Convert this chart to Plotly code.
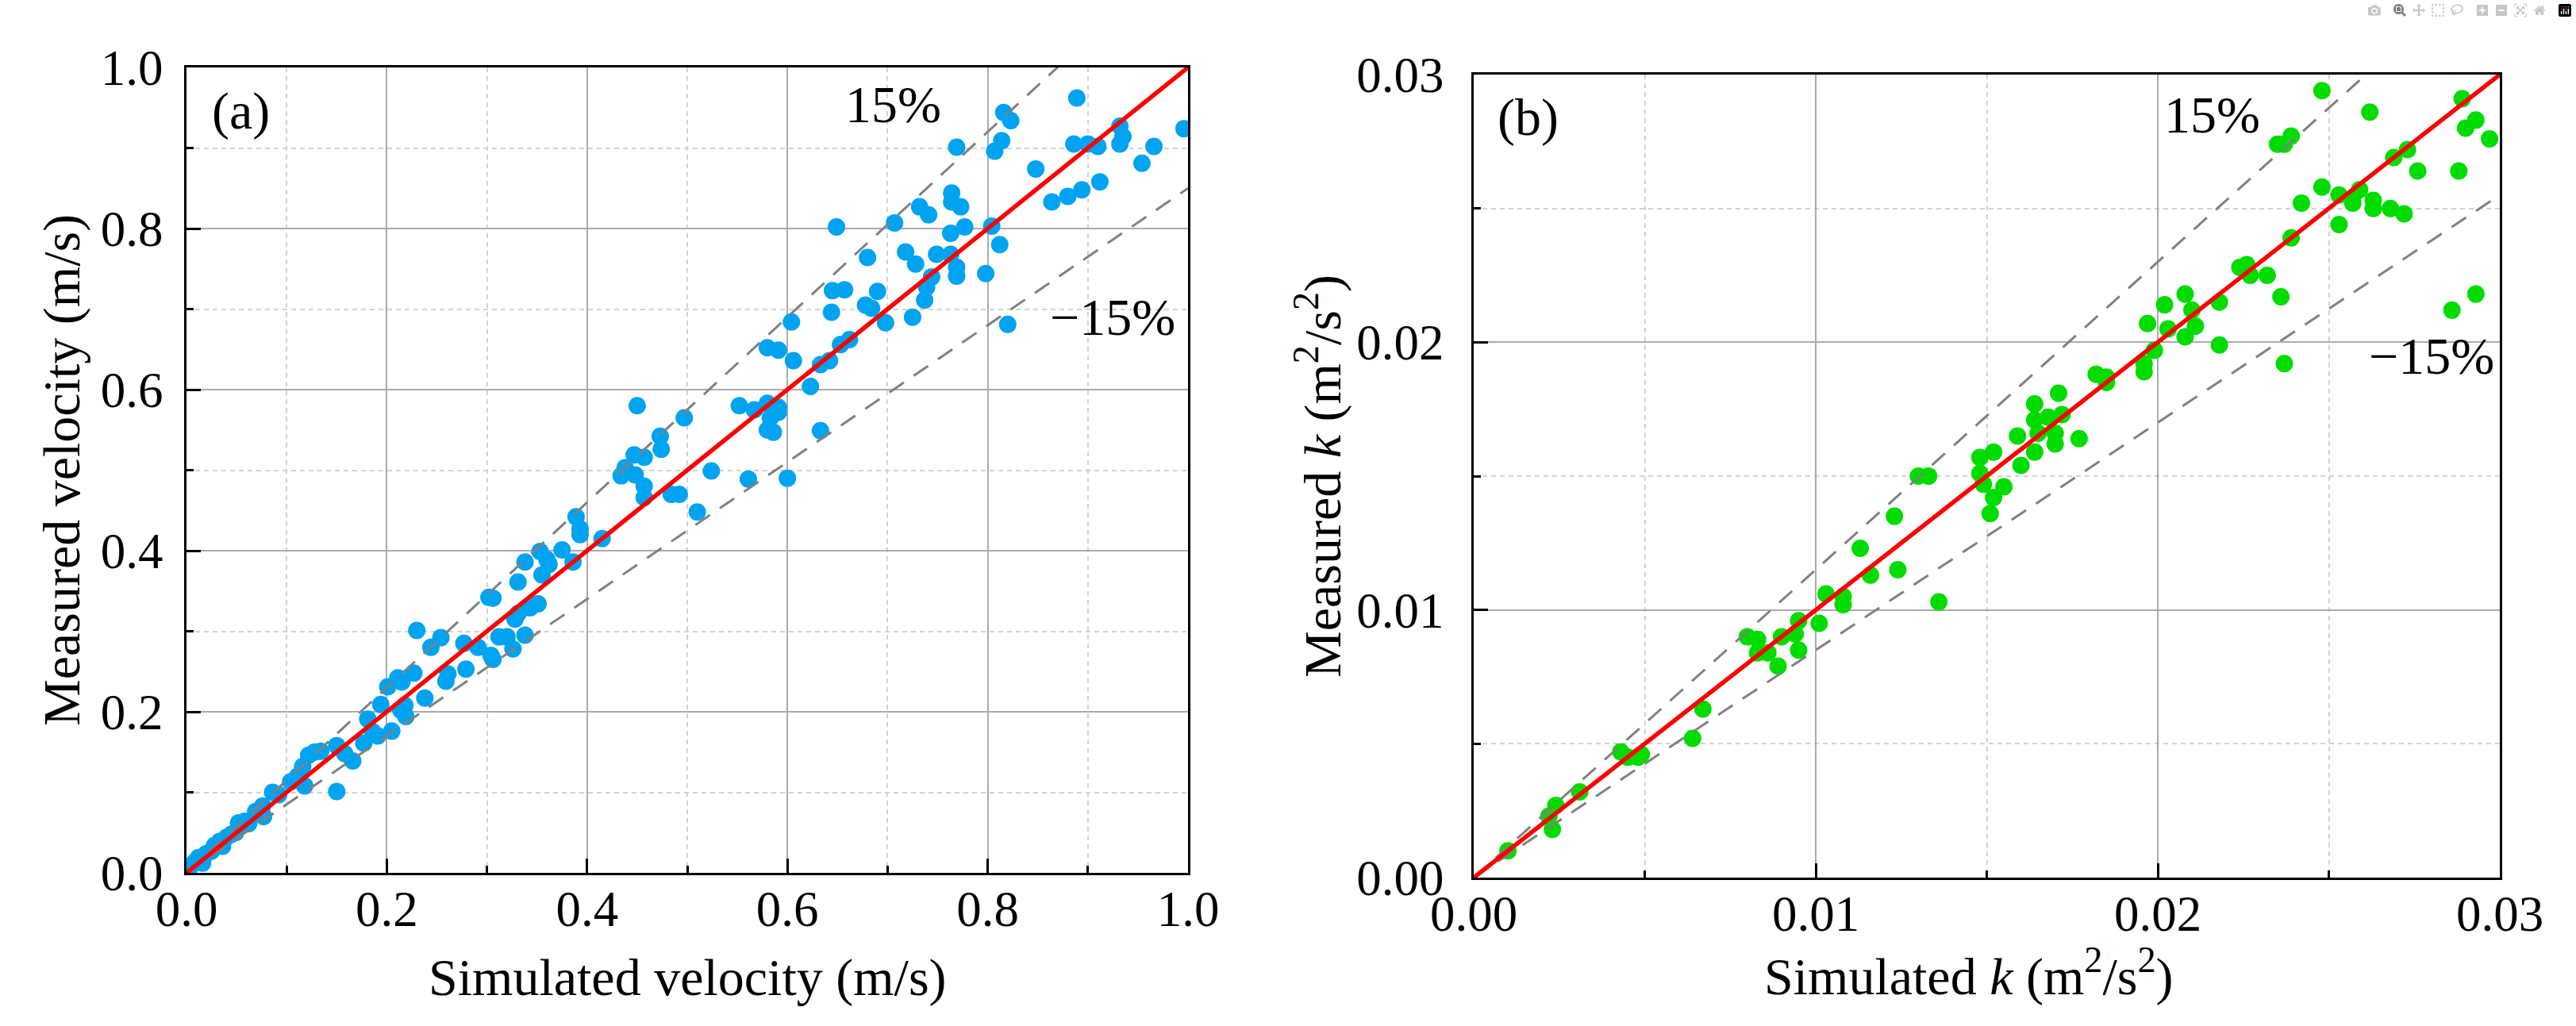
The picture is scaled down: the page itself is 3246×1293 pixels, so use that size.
import plotly.graph_objects as go

# panel (a): velocity, m/s
sim_velocity = [
    0.004, 0.008, 0.012, 0.016, 0.020, 0.025, 0.028, 0.033, 0.036, 0.040,
    0.045, 0.049, 0.052, 0.058, 0.062, 0.069, 0.076, 0.077, 0.086, 0.092,
    0.104, 0.111, 0.118, 0.116, 0.122, 0.128, 0.134, 0.150, 0.150, 0.158,
    0.166, 0.177, 0.181, 0.186, 0.191, 0.194, 0.201, 0.205, 0.211, 0.215,
    0.214, 0.218, 0.219, 0.227, 0.230, 0.238, 0.244, 0.254, 0.259, 0.261,
    0.277, 0.279, 0.291, 0.302, 0.306, 0.304, 0.306, 0.312, 0.320, 0.326,
    0.328, 0.331, 0.331, 0.338, 0.338, 0.343, 0.351, 0.353, 0.355,
    0.360, 0.362, 0.375, 0.386, 0.389, 0.393, 0.393, 0.415, 0.434, 0.438,
    0.447, 0.457, 0.448, 0.457, 0.457, 0.450, 0.473, 0.474, 0.484, 0.492,
    0.497, 0.510, 0.524, 0.552, 0.561, 0.567, 0.580, 0.591, 0.606, 0.604,
    0.580, 0.591, 0.580, 0.586, 0.591, 0.583, 0.600, 0.623, 0.633, 0.642,
    0.633, 0.644, 0.653, 0.662,
    0.889, 0.816, 0.823, 0.769, 0.814, 0.807, 0.886, 0.900, 0.910, 0.932,
    0.935, 0.932, 0.966, 0.996, 0.954, 0.848, 0.864, 0.880, 0.894, 0.912,
    0.764, 0.764, 0.773, 0.732, 0.741, 0.707, 0.649, 0.777, 0.763, 0.804,
    0.812, 0.718, 0.728, 0.749, 0.763, 0.769, 0.769, 0.744, 0.739, 0.798,
    0.680, 0.645, 0.657, 0.690, 0.737, 0.678, 0.684, 0.725, 0.698, 0.820,
]
meas_velocity = [
    0.008, 0.013, 0.019, 0.012, 0.024, 0.027, 0.034, 0.039, 0.033, 0.044,
    0.048, 0.050, 0.062, 0.064, 0.061, 0.076, 0.083, 0.070, 0.100, 0.097,
    0.113, 0.120, 0.108, 0.132, 0.146, 0.150, 0.151, 0.101, 0.158, 0.148,
    0.139, 0.161, 0.191, 0.175, 0.170, 0.209, 0.231, 0.176, 0.242, 0.237,
    0.202, 0.208, 0.194, 0.248, 0.301, 0.217, 0.280, 0.292, 0.238, 0.247,
    0.285, 0.253, 0.280, 0.342, 0.341, 0.270, 0.265, 0.293, 0.293, 0.278,
    0.315, 0.361, 0.322, 0.386, 0.295, 0.329, 0.334, 0.399, 0.370,
    0.389, 0.383, 0.401, 0.386, 0.442, 0.427, 0.420, 0.415, 0.493, 0.503,
    0.519, 0.516, 0.494, 0.480, 0.466, 0.580, 0.542, 0.526, 0.470, 0.470,
    0.565, 0.448, 0.499, 0.580, 0.489, 0.575, 0.652, 0.649, 0.636, 0.684,
    0.583, 0.578, 0.550, 0.547, 0.572, 0.565, 0.490, 0.604, 0.631, 0.636,
    0.549, 0.696, 0.656, 0.662,
    0.962, 0.944, 0.934, 0.901, 0.909, 0.896, 0.905, 0.905, 0.902, 0.927,
    0.914, 0.905, 0.902, 0.924, 0.881, 0.874, 0.833, 0.840, 0.848, 0.858,
    0.844, 0.833, 0.827, 0.827, 0.817, 0.807, 0.802, 0.802, 0.794, 0.803,
    0.780, 0.771, 0.756, 0.768, 0.768, 0.752, 0.741, 0.740, 0.727, 0.744,
    0.764, 0.723, 0.724, 0.722, 0.711, 0.705, 0.701, 0.690, 0.683, 0.681,
]

# panel (b): turbulent kinetic energy k, m2/s2
sim_k = [
    0.0010, 0.0022, 0.0023, 0.0024, 0.0031, 0.0043, 0.0045, 0.0048, 0.0049, 0.0064,
    0.0067, 0.0080, 0.0083, 0.0083, 0.0086, 0.0089, 0.0090, 0.0094, 0.0095, 0.0095,
    0.0101, 0.0103, 0.0108, 0.0108, 0.0113, 0.0116, 0.0123, 0.0124, 0.0130, 0.0133,
    0.0136, 0.0148, 0.0148, 0.0149, 0.0152, 0.0151, 0.0155, 0.0152, 0.0160, 0.0159,
    0.0164, 0.0165, 0.0170, 0.0170, 0.0177, 0.0164, 0.0168, 0.0172, 0.0164, 0.0171,
    0.0182, 0.0185, 0.0185, 0.0196, 0.0196, 0.0199, 0.0197, 0.0203, 0.0202, 0.0208,
    0.0210, 0.0211, 0.0208, 0.0218, 0.0218, 0.0224, 0.0226, 0.0227, 0.0232, 0.0236,
    0.0237, 0.0239, 0.0242, 0.0248, 0.0253, 0.0257, 0.0259, 0.0257, 0.0263, 0.0263,
    0.0268, 0.0272, 0.0253, 0.0235, 0.0237, 0.0239, 0.0248, 0.0262, 0.0269, 0.0273,
    0.0276, 0.0288, 0.0289, 0.0293, 0.0290, 0.0297, 0.0286, 0.0293,
]
meas_k = [
    0.0010, 0.0023, 0.0018, 0.0027, 0.0032, 0.0047, 0.0045, 0.0045, 0.0046, 0.0052,
    0.0063, 0.0090, 0.0089, 0.0084, 0.0084, 0.0079, 0.0090, 0.0091, 0.0096, 0.0085,
    0.0095, 0.0106, 0.0105, 0.0102, 0.0123, 0.0113, 0.0135, 0.0115, 0.0150, 0.0150,
    0.0103, 0.0157, 0.0151, 0.0147, 0.0142, 0.0136, 0.0146, 0.0159, 0.0154, 0.0165,
    0.0159, 0.0166, 0.0166, 0.0162, 0.0164, 0.0171, 0.0172, 0.0173, 0.0177, 0.0181,
    0.0188, 0.0187, 0.0185, 0.0192, 0.0189, 0.0197, 0.0207, 0.0205, 0.0214, 0.0218,
    0.0212, 0.0206, 0.0202, 0.0215, 0.0199, 0.0228, 0.0229, 0.0225, 0.0225, 0.0217,
    0.0192, 0.0239, 0.0252, 0.0258, 0.0255, 0.0254, 0.0257, 0.0252, 0.0253, 0.0250,
    0.0250, 0.0248, 0.0244, 0.0274, 0.0274, 0.0277, 0.0294, 0.0286, 0.0269, 0.0272,
    0.0264, 0.0264, 0.0291, 0.0283, 0.0280, 0.0276, 0.0212, 0.0218,
]

band = 0.15
range_a = [0, 1.0]
range_b = [0, 0.03]

BLUE = "#00a3f0"
GREEN = "#00dc00"
FONT = "Liberation Serif"

fig = go.Figure()


def add_panel(sim, meas, rng, color, xa, ya):
    fig.add_trace(go.Scatter(
        x=sim, y=meas, mode="markers", xaxis=xa, yaxis=ya,
        marker=dict(size=22, color=color, line=dict(width=0)),
        showlegend=False, hoverinfo="skip",
    ))
    for f in (1 + band, 1 - band):
        fig.add_trace(go.Scatter(
            x=rng, y=[v * f for v in rng], mode="lines", xaxis=xa, yaxis=ya,
            line=dict(color="#808080", width=3, dash="22px,15px"),
            showlegend=False, hoverinfo="skip",
        ))
    fig.add_trace(go.Scatter(
        x=rng, y=rng, mode="lines", xaxis=xa, yaxis=ya,
        line=dict(color="#ff0000", width=5.5),
        showlegend=False, hoverinfo="skip",
    ))


add_panel(sim_velocity, meas_velocity, range_a, BLUE, "x", "y")
add_panel(sim_k, meas_k, range_b, GREEN, "x2", "y2")


def axis(rng, dtick, minor_dtick, fmt, domain, anchor, standoff):
    return dict(
        range=rng, domain=domain, anchor=anchor, tick0=0, dtick=dtick,
        tickformat=fmt, zeroline=False, automargin=False,
        showline=True, linecolor="black", linewidth=3, mirror=True,
        ticks="inside", ticklen=18, tickwidth=3, tickcolor="black",
        showgrid=True, gridcolor="#ababab", gridwidth=1.5,
        minor=dict(dtick=minor_dtick, tick0=0, ticks="inside", ticklen=9,
                   tickwidth=2.5, tickcolor="black", showgrid=True,
                   gridcolor="#d2d2d2", gridwidth=1.5, griddash="6px,5px"),
        tickfont=dict(family=FONT, size=63, color="black"),
        ticklabelstandoff=standoff,
    )


W, H = 3246, 1293

fig.update_layout(
    width=W, height=H,
    margin=dict(l=0, r=0, t=0, b=0, pad=0, autoexpand=False),
    paper_bgcolor="white", plot_bgcolor="white",
    xaxis=axis(range_a, 0.2, 0.1, ".1f", [235 / W, 1497 / W], "y", -12),
    yaxis=axis(range_a, 0.2, 0.1, ".1f", [1 - 1100 / H, 1 - 85 / H], "x", 14),
    xaxis2=axis(range_b, 0.01, 0.005, ".2f", [1857 / W, 3150 / W], "y2", -12),
    yaxis2=axis(range_b, 0.01, 0.005, ".2f", [1 - 1106 / H, 1 - 94 / H], "x2", 22),
)

txt = dict(family=FONT, size=66, color="black")
notes = [
    # panel labels and band labels (data coordinates)
    dict(text="(a)", x=0.024, y=0.946, xref="x", yref="y", xanchor="left"),
    dict(text="15%", x=0.706, y=0.954, xref="x", yref="y"),
    dict(text="\u221215%", x=0.925, y=0.690, xref="x", yref="y"),
    dict(text="(b)", x=0.00065, y=0.0284, xref="x2", yref="y2", xanchor="left"),
    dict(text="15%", x=0.0216, y=0.0285, xref="x2", yref="y2"),
    dict(text="\u221215%", x=0.0280, y=0.0195, xref="x2", yref="y2"),
    # axis titles (paper coordinates)
    dict(text="Simulated velocity (m/s)", x=866 / W, y=1 - 1232 / H,
         xref="paper", yref="paper"),
    dict(text="Measured velocity (m/s)", x=78 / W, y=1 - 593 / H,
         xref="paper", yref="paper", textangle=-90),
    dict(text="Simulated <i>k</i> (m<sup>2</sup>/s<sup>2</sup>)", x=2480 / W,
         y=1 - 1226 / H, xref="paper", yref="paper"),
    dict(text="Measured <i>k</i> (m<sup>2</sup>/s<sup>2</sup>)", x=1662 / W,
         y=1 - 600 / H, xref="paper", yref="paper", textangle=-90),
]
for n in notes:
    fig.add_annotation(showarrow=False, font=txt, yanchor="middle",
                       **{"xanchor": "center", **n})

fig.write_html("out.html", post_script="document.body.style.margin='0';")
